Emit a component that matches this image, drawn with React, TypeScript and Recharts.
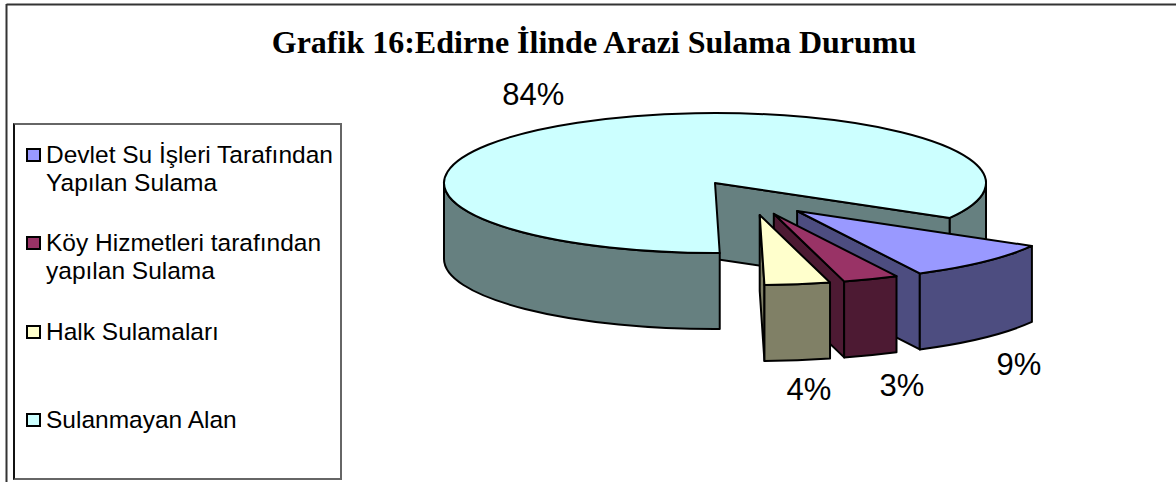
import React from "react";
import { PieChart, Pie, Legend } from "recharts";

const TITLE = "Grafik 16:Edirne İlinde Arazi Sulama Durumu";
const categories = [
  "Devlet Su İşleri Tarafından Yapılan Sulama",
  "Köy Hizmetleri tarafından yapılan Sulama",
  "Halk Sulamaları",
  "Sulanmayan Alan",
];
const legendLines = [
  ["Devlet Su İşleri Tarafından", "Yapılan Sulama"],
  ["Köy Hizmetleri tarafından", "yapılan Sulama"],
  ["Halk Sulamaları"],
  ["Sulanmayan Alan"],
];
const shares = [9.2, 3.3, 3.9, 83.6];
const topColors = ["#9999FF", "#993366", "#FFFFCC", "#CCFFFF"];
const wallColors = ["#4D4D80", "#4D1A33", "#808066", "#668080"];

// Draw order: the large slice sits behind the exploded ones.
const drawOrder = [3, 0, 1, 2];
const pieData = drawOrder.map((i) => ({
  name: categories[i],
  value: shares[i],
  fill: topColors[i],
  wall: wallColors[i],
  idx: i,
}));

const TILT = 70 / 271;
const DEPTH = 76;
const STROKE = 2;
// explosion of each slice, in fractions of the two ellipse radii
const EXPLODE = [
  [0.303, 0.4],
  [0.217, 0.44],
  [0.165, 0.457],
  [0, 0],
];
// how far the percent label sits from the slice apex, in ellipse radii
const LABEL_K = [
  [1.19, 1.53],
  [1.32, 1.47],
  [1.3, 1.42],
  [1.32, 1.46],
];

const rad = (d: number) => (d * Math.PI) / 180;

function Slice3D(props: any) {
  const { cx, cy, outerRadius: rx, startAngle, endAngle, payload } = props;
  const ry = rx * TILT;
  const [ex, ey] = EXPLODE[payload.idx];
  const ax = cx + ex * rx;
  const ay = cy + ey * ry;
  // screen angles, clockwise from +x, a < b
  const a = -startAngle;
  const b = -endAngle;
  const pt = (t: number, dz = 0): [number, number] => [
    ax + rx * Math.cos(rad(t)),
    ay + ry * Math.sin(rad(t)) + dz,
  ];
  const arc = (from: number, to: number, dz: number) => {
    const [x, y] = pt(to, dz);
    const large = Math.abs(to - from) > 180 ? 1 : 0;
    const sweep = to > from ? 1 : 0;
    return `A${rx} ${ry} 0 ${large} ${sweep} ${x} ${y}`;
  };
  const walls: string[] = [];
  const cut = (t: number) => {
    const [x, y] = pt(t);
    walls.push(`M${ax} ${ay}L${x} ${y}L${x} ${y + DEPTH}L${ax} ${ay + DEPTH}Z`);
  };
  if (Math.cos(rad(a)) < 0) cut(a);
  if (Math.cos(rad(b)) > 0) cut(b);
  const outer = (from: number, to: number) => {
    const s = Math.max(a, from);
    const e = Math.min(b, to);
    if (e <= s) return;
    const [x0, y0] = pt(s);
    const [x1, y1] = pt(e);
    walls.push(
      `M${x0} ${y0}${arc(s, e, 0)}L${x1} ${y1 + DEPTH}${arc(e, s, DEPTH)}Z`
    );
  };
  outer(0, 180);
  outer(360, 540);
  const [tx0, ty0] = pt(a);
  const top = `M${ax} ${ay}L${tx0} ${ty0}${arc(a, b, 0)}Z`;
  const common = { stroke: "#000", strokeWidth: STROKE, strokeLinejoin: "round" as const };
  return (
    <g>
      {walls.map((d, i) => (
        <path key={i} d={d} fill={payload.wall} {...common} />
      ))}
      <path d={top} fill={payload.fill} {...common} />
    </g>
  );
}

function sliceLabel(props: any) {
  const { cx, cy, outerRadius: rx, midAngle, payload, value } = props;
  const ry = rx * TILT;
  const [ex, ey] = EXPLODE[payload.idx];
  const [kx, ky] = LABEL_K[payload.idx];
  const t = rad(-midAngle);
  const front = Math.sin(t) > 0 ? DEPTH : 0;
  return (
    <text
      x={cx + ex * rx + kx * rx * Math.cos(t)}
      y={cy + ey * ry + ky * ry * Math.sin(t) + front}
      textAnchor="middle"
      dominantBaseline="central"
      fontFamily="'Liberation Sans', Arial, sans-serif"
      fontSize={31}
      fill="#000"
    >
      {`${Math.round(value)}%`}
    </text>
  );
}

const ROW_CENTERS = [155, 243, 332, 420];

function ChartLegend({ payload }: any) {
  const items = [...(payload || [])].sort(
    (p: any, q: any) => p.payload.idx - q.payload.idx
  );
  return (
    <div
      style={{
        position: "absolute",
        left: 0,
        top: 0,
        width: 329,
        height: 357,
        boxSizing: "border-box",
        background: "#fff",
        borderTop: "2px solid #666",
        borderRight: "2px solid #666",
        borderBottom: "2px solid #666",
        borderLeft: "2px solid #111",
        fontFamily: "'Liberation Sans', Arial, sans-serif",
        fontSize: 24.5,
        color: "#000",
      }}
    >
      {items.map((it: any, i: number) => (
        <div key={i}>
          <div
            style={{
              position: "absolute",
              left: 11,
              top: ROW_CENTERS[i] - 123 - 9,
              width: 15,
              height: 14,
              boxSizing: "border-box",
              background: it.payload.fill,
              border: "2px solid #000",
            }}
          />
          <div
            style={{
              position: "absolute",
              left: 31,
              top: ROW_CENTERS[i] - 123 - 16,
              lineHeight: "28px",
              whiteSpace: "nowrap",
            }}
          >
            {legendLines[i].map((l, j) => (
              <div key={j}>{l}</div>
            ))}
          </div>
        </div>
      ))}
    </div>
  );
}

export default function App() {
  return (
    <div
      style={{
        position: "absolute",
        left: 0,
        top: 0,
        width: 1176,
        height: 482,
        overflow: "hidden",
        background: "#fff",
      }}
    >
      <PieChart width={1176} height={482} margin={{ top: 0, right: 0, bottom: 0, left: 0 }}>
        <line x1={6.5} y1={4.5} x2={1176} y2={4.5} stroke="#333" strokeWidth={2} />
        <line x1={6.5} y1={4} x2={6.5} y2={482} stroke="#333" strokeWidth={2} />
        <text
          x={594}
          y={53}
          textAnchor="middle"
          fontFamily="'Liberation Serif', 'Times New Roman', serif"
          fontWeight="bold"
          fontSize={32}
          fill="#000"
        >
          {TITLE}
        </text>
        <Pie
          data={pieData}
          dataKey="value"
          nameKey="name"
          cx={715}
          cy={183}
          innerRadius={0}
          outerRadius={271}
          startAngle={-89}
          endAngle={-449}
          stroke="#000"
          isAnimationActive={false}
          labelLine={false}
          label={sliceLabel}
          shape={Slice3D}
        />
        <Legend
          content={<ChartLegend />}
          wrapperStyle={{ position: "absolute", left: 13, top: 123, width: 329, height: 357, bottom: "auto" }}
        />
      </PieChart>
    </div>
  );
}
